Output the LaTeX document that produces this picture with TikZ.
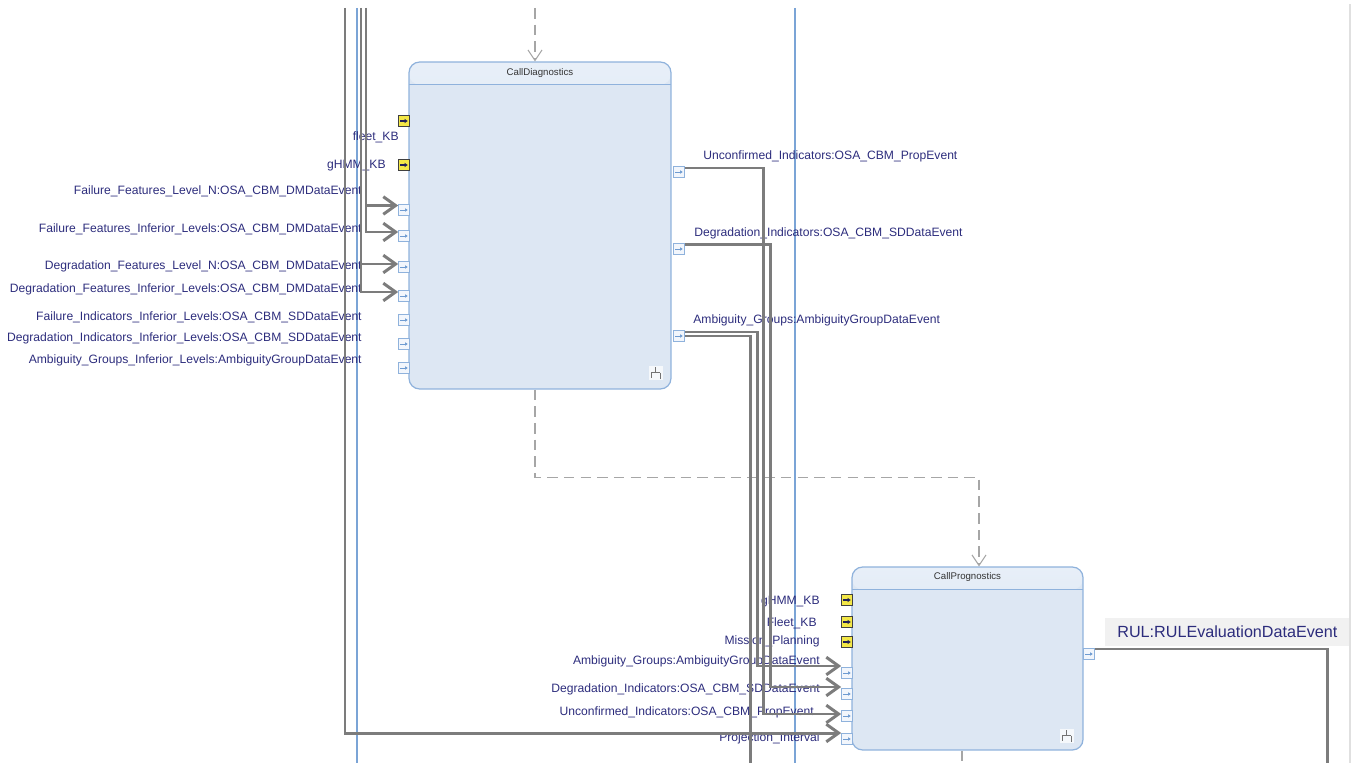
\documentclass[tikz,border=0pt]{standalone}
\usepackage{fontspec}
\setmainfont{Liberation Sans}
\usetikzlibrary{calc,positioning,arrows.meta}
\definecolor{SwimBlue}{HTML}{7BA4D6}
\definecolor{FlowGray}{HTML}{7C7C7C}
\definecolor{CtrlGray}{HTML}{A6A6A6}
\definecolor{BoxFill}{HTML}{DDE7F3}
\definecolor{BoxEdge}{HTML}{8FB2DC}
\definecolor{HeadTop}{HTML}{E8EFF8}
\definecolor{HeadBottom}{HTML}{C5D8EE}
\definecolor{PortFill}{HTML}{F2F6FC}
\definecolor{PortArrow}{HTML}{6E9BD1}
\definecolor{KeyYellow}{HTML}{F3E746}
\definecolor{LabelNavy}{HTML}{2C2C7C}
\definecolor{RulBack}{HTML}{F1F1F1}
\newcommand{\labelfont}{\fontsize{6.9}{8}\selectfont}
\tikzset{
  lane/.style={draw=SwimBlue, line width=1.1pt},
  block/.style={
    rounded corners=6pt,
    draw=BoxEdge,
    line width=0.7pt,
    fill=BoxFill,
    inner sep=0pt,
    path picture={
      \shade[top color=HeadTop, bottom color=HeadBottom]
        (path picture bounding box.north west) rectangle ([yshift=-0.45cm]path picture bounding box.north east);
      \draw[BoxEdge, line width=0.5pt]
        ([yshift=-0.45cm]path picture bounding box.north west) -- ([yshift=-0.45cm]path picture bounding box.north east);
    }
  },
  blocktitle/.style={font=\fontsize{5.5}{6}\selectfont, text=black!80, inner sep=0pt},
  dataport/.style={
    draw=BoxEdge, fill=PortFill, line width=0.4pt,
    minimum size=0.22cm, inner sep=0pt,
    path picture={
      \draw[PortArrow, line width=0.5pt, -{Latex[length=1.6pt,width=2.2pt]}]
        ([xshift=-2.2pt]path picture bounding box.center) -- ([xshift=2.2pt]path picture bounding box.center);
    }
  },
  keyport/.style={
    draw=black!75, fill=KeyYellow, line width=0.6pt,
    minimum size=0.22cm, inner sep=0pt,
    path picture={
      \draw[LabelNavy!70!black, line width=0.8pt, -{Latex[length=1.8pt,width=2.6pt]}]
        ([xshift=-2.2pt]path picture bounding box.center) -- ([xshift=2.2pt]path picture bounding box.center);
    }
  },
  portlabel/.style={font=\labelfont, text=LabelNavy, inner sep=0pt},
  forkicon/.style={
    fill=white!70!BoxFill, minimum size=0.28cm, inner sep=0pt,
    path picture={
      \draw[black!55, line width=0.5pt]
        ([yshift=3pt]path picture bounding box.center) -- (path picture bounding box.center)
        ([xshift=-2.6pt]path picture bounding box.center) -- ([xshift=2.6pt]path picture bounding box.center)
        ([xshift=-2.6pt]path picture bounding box.center) -- ([xshift=-2.6pt,yshift=-3pt]path picture bounding box.center)
        ([xshift=2.6pt]path picture bounding box.center) -- ([xshift=2.6pt,yshift=-3.6pt]path picture bounding box.center);
    }
  },
  flow/.style={draw=FlowGray, line width=1.7pt},
  flowarrow/.style={flow, -{Straight Barb[length=7pt,width=10pt]}},
  ctrl/.style={draw=CtrlGray, line width=0.6pt, dash pattern=on 6pt off 3.5pt,
    -{Straight Barb[length=6pt,width=8pt]}}
}

\begin{document}
\begin{tikzpicture}[x=0.02cm, y=-0.02cm]
  \useasboundingbox (0,0) rectangle (1355,763);

  % swim lanes
  \draw[lane] (357,8) -- (357,763);
  \draw[lane] (795,8) -- (795,763);
  \draw[draw=black!12, line width=0.6pt] (1350,4) -- (1350,763);

  % actions
  \node[block, minimum width=5.24cm, minimum height=6.54cm] (diag) at (540,225.5) {};
  \node[blocktitle, below=0.13cm of diag.north] (diagtitle) {CallDiagnostics};
  \node[forkicon] (diagicon) at ([xshift=-0.32cm,yshift=0.34cm]diag.south east) {};

  \node[block, minimum width=4.62cm, minimum height=3.66cm] (prog) at (967.5,658.5) {};
  \node[blocktitle, below=0.12cm of prog.north] (progtitle) {CallPrognostics};
  \node[forkicon] (progicon) at ([xshift=-0.34cm,yshift=0.3cm]prog.south east) {};

  % pins of CallDiagnostics
  \node[keyport] (kd1) at (404,121) {};
  \node[keyport] (kd2) at (404,165) {};
  \foreach \nm/\y in {pd1/210,pd2/236,pd3/267,pd4/296,pd5/320,pd6/344,pd7/368}
    \node[dataport] (\nm) at (404,\y) {};
  \foreach \nm/\y in {pr1/172,pr2/249,pr3/336}
    \node[dataport] (\nm) at (679,\y) {};

  \node[portlabel, anchor=east] (lfleet) at (399,137) {fleet\_KB};
  \node[portlabel, anchor=east] (lghmm) at (386,166) {gHMM\_KB};
  \foreach \nm/\y/\txt in {
      ld1/191/Failure\_Features\_Level\_N:OSA\_CBM\_DMDataEvent,
      ld2/229/Failure\_Features\_Inferior\_Levels:OSA\_CBM\_DMDataEvent,
      ld3/266/Degradation\_Features\_Level\_N:OSA\_CBM\_DMDataEvent,
      ld4/289/Degradation\_Features\_Inferior\_Levels:OSA\_CBM\_DMDataEvent,
      ld5/317/Failure\_Indicators\_Inferior\_Levels:OSA\_CBM\_SDDataEvent,
      ld6/338/Degradation\_Indicators\_Inferior\_Levels:OSA\_CBM\_SDDataEvent,
      ld7/360/Ambiguity\_Groups\_Inferior\_Levels:AmbiguityGroupDataEvent}
    \node[portlabel, anchor=east] (\nm) at (362,\y) {\txt};

  \node[portlabel, anchor=west] (lr1) at (703,156) {Unconfirmed\_Indicators:OSA\_CBM\_PropEvent};
  \node[portlabel, anchor=west] (lr2) at (694,233) {Degradation\_Indicators:OSA\_CBM\_SDDataEvent};
  \node[portlabel, anchor=west] (lr3) at (693,320) {Ambiguity\_Groups:AmbiguityGroupDataEvent};

  % pins of CallPrognostics
  \foreach \nm/\y in {kp1/600,kp2/622,kp3/642}
    \node[keyport] (\nm) at (847,\y) {};
  \foreach \nm/\y in {pp1/673,pp2/694,pp3/716,pp4/739}
    \node[dataport] (\nm) at (847,\y) {};
  \node[dataport] (prr) at (1089,654) {};

  \foreach \nm/\x/\y/\txt in {
      lp1/820/602/gHMM\_KB,
      lp2/817/623/Fleet\_KB,
      lp3/820/641/Mission\_Planning,
      lp4/820/661/Ambiguity\_Groups:AmbiguityGroupDataEvent,
      lp5/820/689/Degradation\_Indicators:OSA\_CBM\_SDDataEvent,
      lp6/814/712/Unconfirmed\_Indicators:OSA\_CBM\_PropEvent,
      lp7/820/738/Projection\_Interval}
    \node[portlabel, anchor=east] (\nm) at (\x,\y) {\txt};

  \node[
    fill=RulBack,
    inner xsep=0.24cm,
    minimum height=0.56cm,
    anchor=west,
    font=\fontsize{9.2}{11}\selectfont,
    text=LabelNavy
  ] (rul) at (1105,632) {RUL:RULEvaluationDataEvent};

  % control flow
  \coordinate (ctrlin) at (535,8);
  \draw[ctrl] (ctrlin) -- (ctrlin |- diag.north);
  \draw[ctrl] (ctrlin |- diag.south) -- ++(0,88) -| ([xshift=0.23cm]prog.north);
  \draw[ctrl, -] ([xshift=-0.11cm]prog.south) -- ++(0,16);

  % object flow
  \coordinate (busL) at (345,8);
  \coordinate (busM) at (361,8);
  \coordinate (busN) at (366,8);
  \draw[flowarrow] (busN) |- ([yshift=0.09cm]pd1.west);
  \draw[flowarrow] (busN) |- ([yshift=0.08cm]pd2.west);
  \draw[flowarrow] (busM) |- ([yshift=0.06cm]pd3.west);
  \draw[flowarrow] (busM) |- ([yshift=0.08cm]pd4.west);
  \draw[flowarrow] (busL) |- ([yshift=0.12cm]pp4.west);

  \coordinate (busA2) at (750,763);
  \coordinate (busA) at (757,0);
  \coordinate (busU) at (763,0);
  \coordinate (busD) at (770,0);
  \coordinate (inA) at ([yshift=0.14cm]pp1.west);
  \coordinate (inD) at ([yshift=0.14cm]pp2.west);
  \coordinate (inU) at ([yshift=0.04cm]pp3.west);
  \draw[flowarrow] ([yshift=0.08cm]pr1.east) -| (busU |- inU) -- (inU);
  \draw[flowarrow] ([yshift=0.09cm]pr2.east) -| (busD |- inD) -- (inD);
  \draw[flowarrow] ([yshift=0.08cm]pr3.east) -| (busA |- inA) -- (inA);
  \draw[flow] (pr3.east) -| (busA2);

  \coordinate (rulend) at (1327,763);
  \draw[flow] ([yshift=0.1cm]prr.east) -| (rulend);
\end{tikzpicture}
\end{document}
